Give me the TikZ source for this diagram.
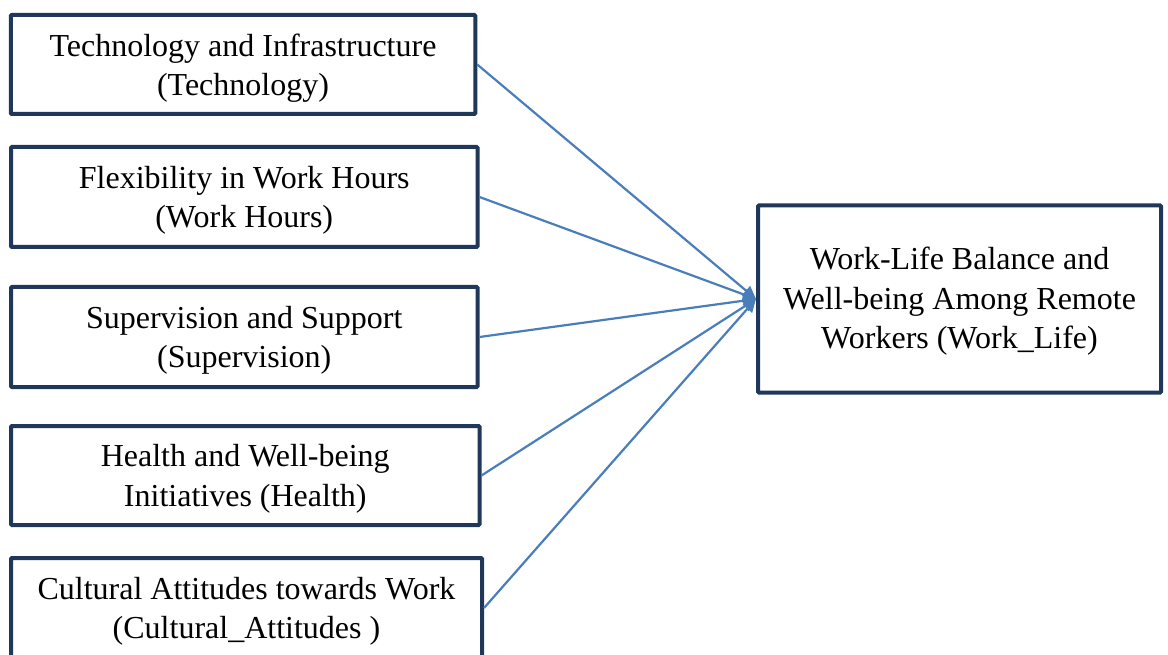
\documentclass[tikz,border=0pt]{standalone}
\usepackage{fontspec}
\setmainfont{Liberation Serif}
\usetikzlibrary{arrows.meta}
\definecolor{boxnavy}{HTML}{1F3859}
\definecolor{arrowblue}{HTML}{4A7EBB}
\tikzset{
  factor/.style={draw=boxnavy, line width=4pt, rounded corners=1pt, fill=white, inner sep=0pt},
  boxtext/.style={align=center, inner sep=0pt, font=\fontsize{32}{39.5}\selectfont},
  link/.style={draw=arrowblue, line width=2.2pt, -{Triangle[length=13pt,width=12pt]}}
}
\begin{document}
\begin{tikzpicture}[x=1pt,y=-1pt]
\useasboundingbox (0,0) rectangle (1168,655);
\node[factor, minimum width=464.5pt, minimum height=99pt] (tech) at (243,64.5) {};
\node[factor, minimum width=466.5pt, minimum height=100pt] (hours) at (244.25,197) {};
\node[factor, minimum width=466.5pt, minimum height=100pt] (super) at (244.25,337) {};
\node[factor, minimum width=468.5pt, minimum height=99pt] (health) at (245.25,475.5) {};
\node[factor, minimum width=471pt, minimum height=100pt] (culture) at (246.5,608) {};
\node[factor, minimum width=403pt, minimum height=187pt] (wl) at (959.5,299) {};
\node[boxtext] (techt) at ([yshift=-3.5pt]tech.center)
  {Technology and Infrastructure\\(Technology)};
\node[boxtext] (hourst) at ([yshift=-3.5pt]hours.center)
  {Flexibility in Work Hours\\(Work Hours)};
\node[boxtext] (supert) at ([yshift=-3.5pt]super.center)
  {Supervision and Support\\(Supervision)};
\node[boxtext] (healtht) at ([yshift=-3.5pt]health.center)
  {Health and Well-being\\Initiatives (Health)};
\node[boxtext] (culturet) at ([yshift=-3.5pt]culture.center)
  {Cultural Attitudes towards Work\\(Cultural\_Attitudes )};
\node[boxtext] (wlt) at ([yshift=-2.5pt]wl.center)
  {Work-Life Balance and\\Well-being Among Remote\\Workers (Work\_Life)};
\foreach \n in {tech,hours,super,health,culture}
  \draw[link] (\n.east) -- (wl.west);
\end{tikzpicture}
\end{document}
